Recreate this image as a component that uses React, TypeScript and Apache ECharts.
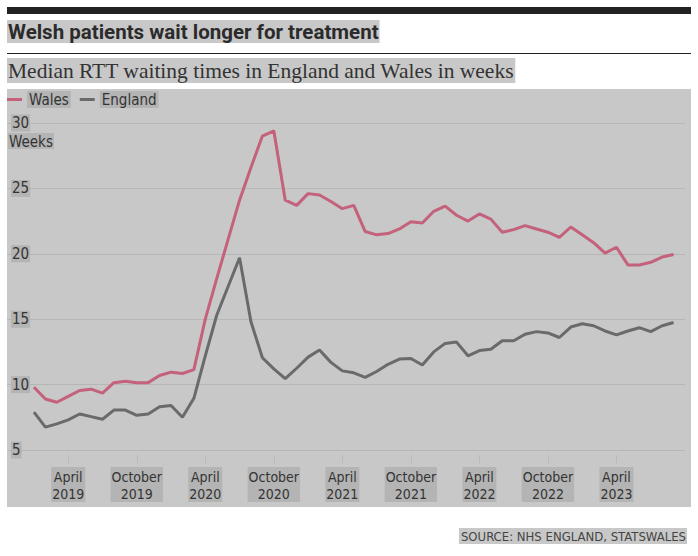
import React, { useEffect, useRef } from "react";
import * as echarts from "echarts";

const months = [
  "2019-01","2019-02","2019-03","2019-04","2019-05","2019-06","2019-07","2019-08","2019-09","2019-10","2019-11","2019-12",
  "2020-01","2020-02","2020-03","2020-04","2020-05","2020-06","2020-07","2020-08","2020-09","2020-10","2020-11","2020-12",
  "2021-01","2021-02","2021-03","2021-04","2021-05","2021-06","2021-07","2021-08","2021-09","2021-10","2021-11","2021-12",
  "2022-01","2022-02","2022-03","2022-04","2022-05","2022-06","2022-07","2022-08","2022-09","2022-10","2022-11","2022-12",
  "2023-01","2023-02","2023-03","2023-04","2023-05","2023-06","2023-07","2023-08","2023-09",
];

const wales = [
  9.8, 8.9, 8.65, 9.1, 9.55, 9.65, 9.35, 10.15, 10.25, 10.15, 10.15, 10.7,
  10.95, 10.85, 11.15, 15.0, 18.1, 21.1, 24.1, 26.6, 29.0, 29.4, 24.1, 23.7,
  24.6, 24.5, 24.0, 23.45, 23.7, 21.7, 21.45, 21.55, 21.9, 22.45, 22.35, 23.25,
  23.65, 22.95, 22.5, 23.05, 22.65, 21.65, 21.85, 22.15, 21.9, 21.65, 21.25, 22.05,
  21.45, 20.85, 20.05, 20.5, 19.15, 19.15, 19.35, 19.75, 19.95,
];

const england = [
  7.9, 6.75, 7.0, 7.3, 7.75, 7.55, 7.35, 8.05, 8.05, 7.65, 7.75, 8.3,
  8.4, 7.5, 8.95, 12.2, 15.3, 17.5, 19.7, 14.8, 12.05, 11.2, 10.45, 11.25,
  12.1, 12.65, 11.7, 11.05, 10.9, 10.55, 11.0, 11.55, 11.95, 12.0, 11.5, 12.5,
  13.15, 13.25, 12.2, 12.6, 12.7, 13.35, 13.35, 13.85, 14.05, 13.95, 13.6, 14.4,
  14.65, 14.5, 14.1, 13.8, 14.1, 14.35, 14.05, 14.5, 14.75,
];

const tickMonths = ["2019-04","2019-10","2020-04","2020-10","2021-04","2021-10","2022-04","2022-10","2023-04"];
const tickLabels = ["April\n2019","October\n2019","April\n2020","October\n2020","April\n2021","October\n2021","April\n2022","October\n2022","April\n2023"];
const yTicks = [5, 10, 15, 20, 25, 30];

const COND = "'Liberation Sans Narrow', 'DejaVu Sans Condensed', 'Roboto Condensed', Roboto, sans-serif";
const HL = "#b4b4b4";

export default function App() {
  const ref = useRef<HTMLDivElement>(null);
  useEffect(() => {
    if (!ref.current) return;
    const chart = echarts.init(ref.current, undefined, { renderer: "svg" });
    const tickIdx = tickMonths.map((m) => months.indexOf(m));
    const walesData = wales.map((v, i) => [i, v]);
    const englandData = england.map((v, i) => [i, v]);
    chart.setOption({
      animation: false,
      backgroundColor: "#ffffff",
      graphic: [
        { type: "rect", shape: { x: 7, y: 89, width: 684, height: 418 }, style: { fill: "#c8c8c8" }, z: -10 },
        { type: "rect", shape: { x: 7, y: 7, width: 684, height: 7 }, style: { fill: "#222222" } },
        { type: "line", shape: { x1: 7, y1: 53.5, x2: 691, y2: 53.5 }, style: { stroke: "#222", lineWidth: 1 } },
        {
          type: "text", x: 7, y: 20,
          style: { text: "Welsh patients wait longer for treatment", font: "bold 20.5px Roboto, sans-serif", fill: "#2b2b2b", backgroundColor: "#c8c8c8", padding: [1, 1, 1, 1] },
        },
        {
          type: "text", x: 7, y: 58,
          style: { text: "Median RTT waiting times in England and Wales in weeks", font: "21.5px 'Liberation Serif', 'DejaVu Serif', serif", fill: "#333", backgroundColor: "#c8c8c8", padding: [2, 1, 1, 1] },
        },
        {
          type: "text", x: 8, y: 133,
          style: { text: "Weeks", font: `15px ${COND}`, fill: "#333", backgroundColor: HL, padding: [1, 1, 0, 1] },
        },
        {
          type: "text", x: 687, y: 528, style: { text: "SOURCE: NHS ENGLAND, STATSWALES", font: `13px ${COND}`, fill: "#444", backgroundColor: "#c8c8c8", padding: [2, 1, 1, 2], align: "right" },
        },
      ],
      legend: {
        left: 7, top: 91, padding: 0, icon: "rect", itemWidth: 15, itemHeight: 3, itemGap: 9,
        textStyle: { color: "#333", fontSize: 15, fontFamily: COND, backgroundColor: HL, padding: [1, 2, 1, 2] },
        data: ["Wales", "England"],
      },
      grid: { left: 7, right: 13, top: 123, bottom: 106 },
      xAxis: {
        type: "value", min: -2.36, max: 57, offset: 5,
        axisLine: { show: false },
        splitLine: { show: false },
        axisTick: { show: true, customValues: tickIdx, length: 8, lineStyle: { color: "#b9b9b9" } },
        axisLabel: {
          customValues: tickIdx,
          formatter: (v: number) => tickLabels[tickIdx.indexOf(Math.round(v))] ?? "",
          color: "#333", fontSize: 14, lineHeight: 17, fontFamily: COND, margin: 12,
          backgroundColor: HL, padding: [1, 1, 0, 1],
        },
      },
      yAxis: {
        type: "value", min: yTicks[0], max: yTicks[yTicks.length - 1], interval: 5,
        axisLine: { show: false }, axisTick: { show: false },
        splitLine: { lineStyle: { color: "#b6b6b6", width: 1 } },
        axisLabel: { inside: true, margin: 4, color: "#333", fontSize: 15, fontFamily: COND, backgroundColor: HL, padding: [1, 1, 1, 1] },
      },
      series: [
        { name: "Wales", type: "line", data: walesData, showSymbol: false, symbol: "none", lineStyle: { color: "#c4617b", width: 3 }, itemStyle: { color: "#c4617b" }, z: 3 },
        { name: "England", type: "line", data: englandData, showSymbol: false, symbol: "none", lineStyle: { color: "#6a6a6a", width: 3 }, itemStyle: { color: "#6a6a6a" }, z: 2 },
      ],
    });
    return () => chart.dispose();
  }, []);
  return <div ref={ref} style={{ position: "fixed", left: 0, top: 0, width: 698, height: 556 }} />;
}
